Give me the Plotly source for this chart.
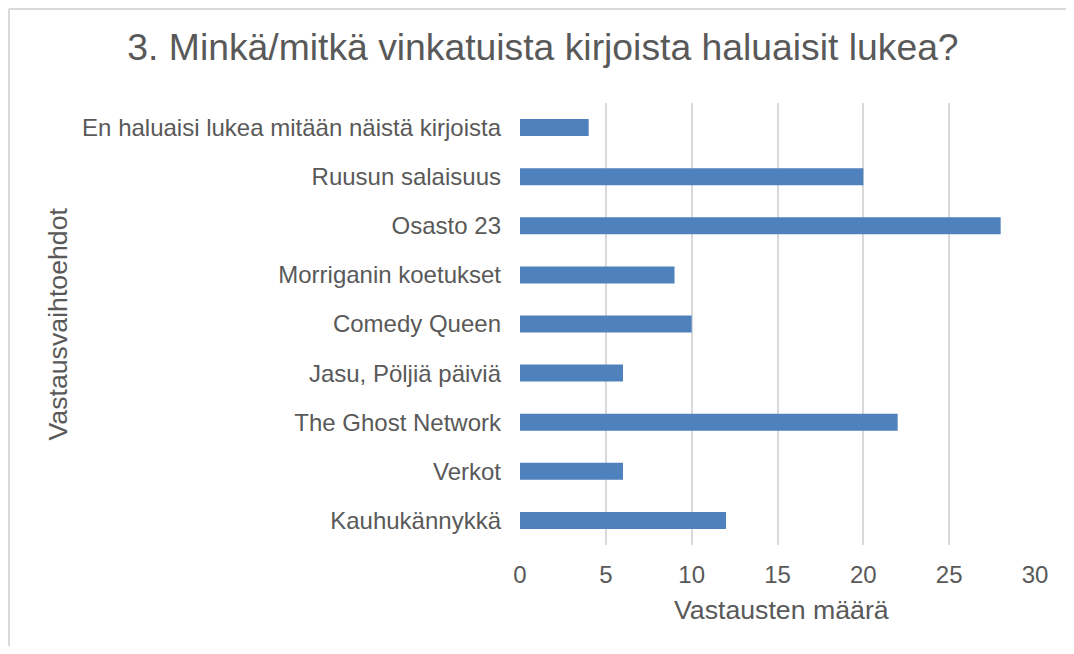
import plotly.graph_objects as go

categories = [
    "En haluaisi lukea mitään näistä kirjoista",
    "Ruusun salaisuus",
    "Osasto 23",
    "Morriganin koetukset",
    "Comedy Queen",
    "Jasu, Pöljiä päiviä",
    "The Ghost Network",
    "Verkot",
    "Kauhukännykkä",
]
values = [4, 20, 28, 9, 10, 6, 22, 6, 12]
x_ticks = [0, 5, 10, 15, 20, 25, 30]

title_text = "3. Minkä/mitkä vinkatuista kirjoista haluaisit lukea?"
x_title = "Vastausten määrä"
y_title = "Vastausvaihtoehdot"

OFF = 8  # page body margin offset
W, H = 1074 - 2 * OFF, 654 - 2 * OFF
L, R, T, B = 520 - OFF, 1035 - OFF, 103 - OFF, 545 - OFF
pw, ph = R - L, B - T

def px(x):
    return (x - OFF - L) / pw

def py(y):
    return (B - (y - OFF)) / ph

FONT = "Liberation Sans, Arial, sans-serif"
GREY = "#595959"
BORDER = "#D9D9D9"

fig = go.Figure(
    go.Bar(
        x=values,
        y=categories,
        orientation="h",
        marker=dict(color="#4F81BD", line=dict(width=0)),
        hoverinfo="x+y",
    )
)

fig.update_layout(
    width=W,
    height=H,
    margin=dict(l=L, r=W - R, t=T, b=H - B, autoexpand=False),
    paper_bgcolor="white",
    plot_bgcolor="white",
    bargap=0.654,
    showlegend=False,
    font=dict(family=FONT, color=GREY, size=24),
    title=dict(
        text=title_text,
        font=dict(family=FONT, color=GREY, size=37.3),
        xref="container",
        yref="container",
        x=(543 - OFF) / W,
        y=1 - (47 - OFF) / H,
        xanchor="center",
        yanchor="middle",
    ),
    xaxis=dict(
        range=[0, 30],
        tickvals=x_ticks,
        showgrid=True,
        gridcolor="#D9D9D9",
        gridwidth=1.5,
        zeroline=False,
        showline=False,
        ticks="",
        ticklabelstandoff=13,
        tickfont=dict(size=24, color=GREY, family=FONT),
        automargin=False,
        fixedrange=True,
    ),
    yaxis=dict(
        autorange="reversed",
        showgrid=False,
        zeroline=False,
        showline=False,
        ticks="",
        ticklabelstandoff=18,
        tickfont=dict(size=24, color=GREY, family=FONT),
        automargin=False,
        fixedrange=True,
    ),
    shapes=[
        dict(
            type="line",
            xref="paper",
            yref="paper",
            x0=px(9),
            x1=px(1200),
            y0=py(9),
            y1=py(9),
            line=dict(color=BORDER, width=2),
            layer="below",
        ),
        dict(
            type="line",
            xref="paper",
            yref="paper",
            x0=px(9),
            x1=px(9),
            y0=py(9),
            y1=py(800),
            line=dict(color=BORDER, width=2),
            layer="below",
        ),
    ],
    annotations=[
        dict(
            text=x_title,
            xref="paper",
            yref="paper",
            x=px(781.5),
            y=py(610),
            xanchor="center",
            yanchor="middle",
            showarrow=False,
            font=dict(size=26.7, color=GREY, family=FONT),
        ),
        dict(
            text=y_title,
            xref="paper",
            yref="paper",
            x=px(57.5),
            y=py(324),
            xanchor="center",
            yanchor="middle",
            textangle=-90,
            showarrow=False,
            font=dict(size=26.7, color=GREY, family=FONT),
        ),
    ],
)

fig.write_html("out.html")
